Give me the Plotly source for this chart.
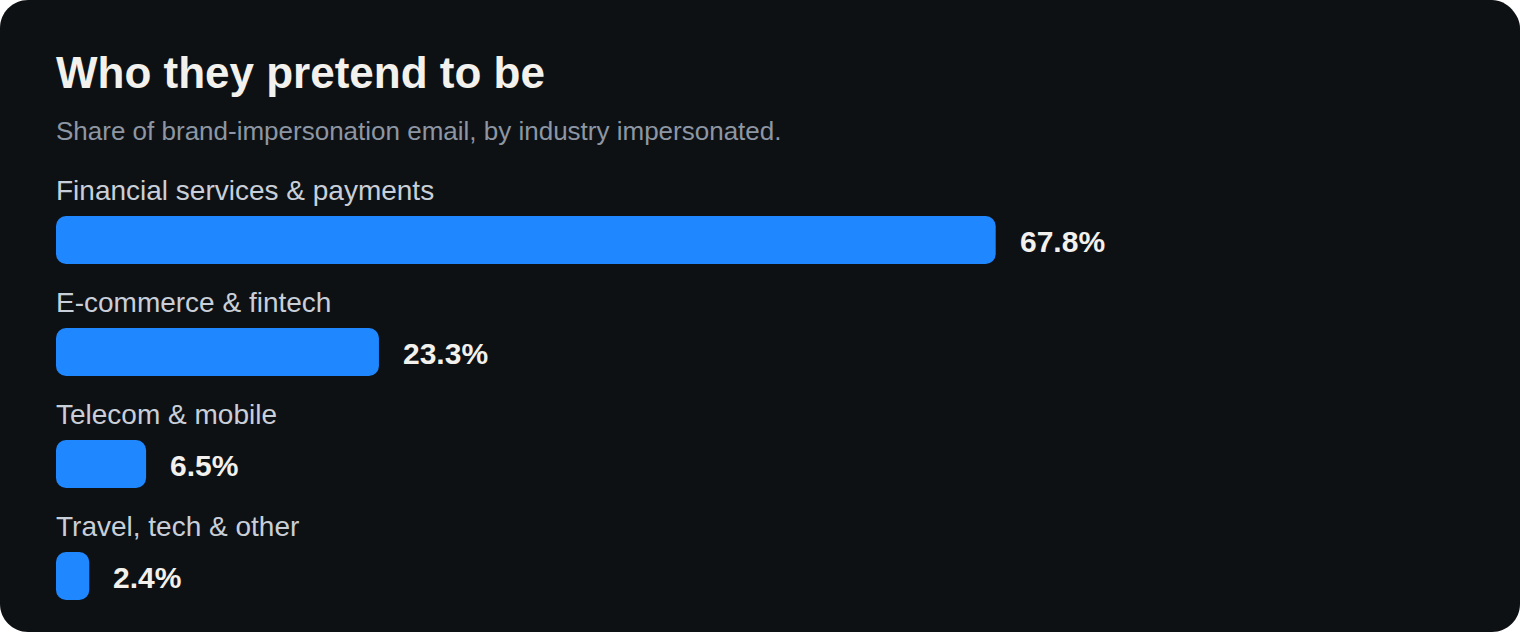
import plotly.graph_objects as go

categories = ["Financial services & payments", "E-commerce & fintech", "Telecom & mobile", "Travel, tech & other"]
shares = [67.8, 23.3, 6.5, 2.4]
value_labels = ["67.8%", "23.3%", "6.5%", "2.4%"]

title = "Who they pretend to be"
subtitle = "Share of brand-impersonation email, by industry impersonated."

W, H = 1520, 632
ML, MR, MT, MB = 56, 78, 184, 0
PW = W - ML - MR
PH = H - MT - MB
BG = "#0e1114"
BAR = "#1f87ff"
FONT = "Liberation Sans, Arial, Helvetica, sans-serif"

ypos = list(range(len(categories)))

fig = go.Figure()
# a (negligible) non-zero base makes plotly round both ends of each bar
fig.add_trace(go.Bar(
    x=shares, base=[1e-9] * len(shares), y=ypos, orientation="h",
    width=48 / 112,
    marker=dict(color=BAR, cornerradius=10, line=dict(width=0)),
    hoverinfo="skip",
))

def px2x(px):
    return (px - ML) / PW

def py2y(py):
    return (H - MB - py) / PH

# card with rounded corners
r = 28
x0, x1 = px2x(0), px2x(W)
y0, y1 = py2y(0), py2y(H)
rx, ry = r / PW, r / PH
k = 0.4477
path = (
    f"M {x0+rx},{y0} L {x1-rx},{y0} "
    f"C {x1-rx*k},{y0} {x1},{y0-ry*(1-k)} {x1},{y0-ry} "
    f"L {x1},{y1+ry} "
    f"C {x1},{y1+ry*k} {x1-rx*k},{y1} {x1-rx},{y1} "
    f"L {x0+rx},{y1} "
    f"C {x0+rx*k},{y1} {x0},{y1+ry*k} {x0},{y1+ry} "
    f"L {x0},{y0-ry} "
    f"C {x0},{y0-ry*k} {x0+rx*k},{y0} {x0+rx},{y0} Z"
)
fig.add_shape(type="path", path=path, xref="paper", yref="paper",
              fillcolor=BG, line=dict(width=0), layer="below")

annotations = [
    dict(text=f"<b>{title}</b>", xref="paper", yref="paper", x=0, y=py2y(73),
         xanchor="left", yanchor="middle", showarrow=False, xshift=-2,
         font=dict(family=FONT, size=44, color="#f2f1ed")),
    dict(text=subtitle, xref="paper", yref="paper", x=0, y=py2y(131),
         xanchor="left", yanchor="middle", showarrow=False, xshift=-2,
         font=dict(family=FONT, size=26, color="#8d96a3")),
]
for i, (c, v, lab) in enumerate(zip(categories, shares, value_labels)):
    annotations.append(dict(text=c, xref="x", yref="y", x=0, y=i, yshift=50,
                            xanchor="left", yanchor="middle", showarrow=False, xshift=-2,
                            font=dict(family=FONT, size=28, color="#c9cfd8")))
    annotations.append(dict(text=f"<b>{lab}</b>", xref="x", yref="y", x=v, y=i, xshift=22,
                            xanchor="left", yanchor="middle", showarrow=False, yshift=-1,
                            font=dict(family=FONT, size=30, color="#f2f1ed")))

fig.update_layout(
    width=W, height=H,
    margin=dict(l=ML, r=MR, t=MT, b=MB, pad=0),
    paper_bgcolor="#ffffff",
    plot_bgcolor="rgba(0,0,0,0)",
    showlegend=False,
    annotations=annotations,
    xaxis=dict(range=[0, 100], visible=False, fixedrange=True),
    yaxis=dict(range=[len(categories) - 0.5, -0.5], visible=False, fixedrange=True),
)

fig.write_html("out.html", config={"displayModeBar": False})
